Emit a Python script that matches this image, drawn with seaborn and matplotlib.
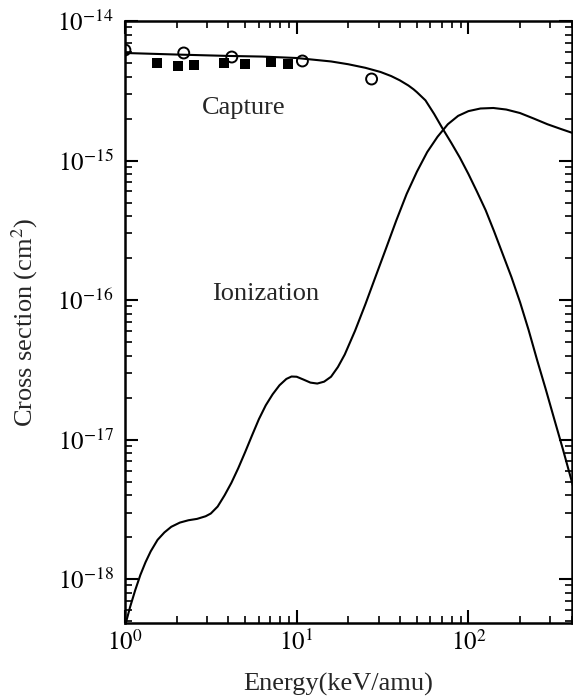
import numpy as np
import pandas as pd
import matplotlib
matplotlib.use("Agg")
import matplotlib.pyplot as plt
import seaborn as sns
from matplotlib.ticker import LogLocator, FixedLocator, FixedFormatter, NullFormatter

# ---------------- data ----------------
capture_energy = [1.0, 2.0, 3.98, 6.31, 10.0, 15.85, 19.95, 25.1, 30.8, 35.5, 39.8, 44.7,
                  47.9, 50.1, 56.2, 63.1, 70.6, 79.4, 89.1, 100, 112, 126, 141, 158,
                  178, 200, 224, 251, 282, 316, 355, 398, 407]
capture_cs = [5.90e-15, 5.75e-15, 5.62e-15, 5.56e-15, 5.43e-15, 5.13e-15, 4.90e-15,
              4.62e-15, 4.31e-15, 4.03e-15, 3.76e-15, 3.45e-15, 3.24e-15, 3.09e-15,
              2.70e-15, 2.16e-15, 1.70e-15, 1.34e-15, 1.05e-15, 8.0e-16, 6.0e-16,
              4.40e-16, 3.11e-16, 2.15e-16, 1.46e-16, 9.6e-17, 6.1e-17, 3.72e-17,
              2.29e-17, 1.40e-17, 8.5e-18, 5.1e-18, 4.6e-18]

ion_energy = [1.0, 1.072, 1.148, 1.230, 1.318, 1.413, 1.549, 1.698, 1.862, 2.089, 2.344,
              2.630, 2.951, 3.162, 3.467, 3.802, 4.169, 4.571, 5.012, 5.495, 6.026, 6.607,
              7.244, 7.943, 8.710, 9.333, 10.0, 10.96, 12.02, 13.18, 14.45, 15.85, 17.38,
              19.05, 21.88, 25.12, 28.84, 33.11, 38.02, 43.65, 50.12, 57.54, 66.07, 75.86,
              87.10, 100, 117.5, 139.6, 166.0, 199.5, 239.9, 288.4, 346.7, 407.4]
ion_cs = [4.57e-19, 6.31e-19, 8.32e-19, 1.07e-18, 1.32e-18, 1.58e-18, 1.91e-18, 2.16e-18,
          2.37e-18, 2.54e-18, 2.64e-18, 2.70e-18, 2.82e-18, 2.95e-18, 3.31e-18, 3.98e-18,
          4.90e-18, 6.24e-18, 8.13e-18, 1.07e-17, 1.40e-17, 1.76e-17, 2.11e-17, 2.45e-17,
          2.72e-17, 2.83e-17, 2.82e-17, 2.69e-17, 2.56e-17, 2.52e-17, 2.60e-17, 2.82e-17,
          3.31e-17, 4.07e-17, 6.03e-17, 9.33e-17, 1.48e-16, 2.34e-16, 3.72e-16, 5.75e-16,
          8.32e-16, 1.15e-15, 1.48e-15, 1.82e-15, 2.09e-15, 2.26e-15, 2.36e-15, 2.38e-15,
          2.32e-15, 2.19e-15, 2.00e-15, 1.82e-15, 1.68e-15, 1.57e-15]

circle_energy = [1.0, 2.2, 4.19, 10.8, 27.3]
circle_cs = [6.2e-15, 5.9e-15, 5.52e-15, 5.17e-15, 3.84e-15]

square_energy = [1.53, 2.04, 2.53, 3.78, 5.0, 7.06, 8.9]
square_cs = [4.98e-15, 4.76e-15, 4.84e-15, 4.98e-15, 4.9e-15, 5.06e-15, 4.92e-15]

x_ticks = [1, 10, 100]
x_tick_labels = ["$10^{0}$", "$10^{1}$", "$10^{2}$"]
y_ticks = [1e-18, 1e-17, 1e-16, 1e-15, 1e-14]
y_tick_labels = ["$10^{-18}$", "$10^{-17}$", "$10^{-16}$", "$10^{-15}$", "$10^{-14}$"]

x_label = "Energy(keV/amu)"
y_label = "Cross section (cm$^2$)"
label_capture = "Capture"
label_ionization = "Ionization"

# ---------------- style ----------------
sns.set_theme(style="ticks")
plt.rcParams['font.family'] = ['Liberation Serif', 'DejaVu Serif']
plt.rcParams['mathtext.fontset'] = 'stix'

fig = plt.figure(figsize=(5.73, 6.98), dpi=100)
ax = fig.add_axes([0.218, 0.1074, 0.780, 0.8625])
ax.set_xscale('log')
ax.set_yscale('log')

cap_df = pd.DataFrame({"E": capture_energy, "sigma": capture_cs})
ion_df = pd.DataFrame({"E": ion_energy, "sigma": ion_cs})
sns.lineplot(data=cap_df, x="E", y="sigma", ax=ax, color="black", lw=1.5,
             sort=False, estimator=None)
sns.lineplot(data=ion_df, x="E", y="sigma", ax=ax, color="black", lw=1.5,
             sort=False, estimator=None)

sns.scatterplot(x=circle_energy, y=circle_cs, ax=ax, marker='o', s=62, linewidth=1.4)
coll = ax.collections[-1]
coll.set_facecolor('none')
coll.set_edgecolor('black')

sns.scatterplot(x=square_energy, y=square_cs, ax=ax, marker='s', s=48, color='black',
                linewidth=0)

ax.set_xlim(1.0, 400)
ax.set_ylim(4.84e-19, 1e-14)

ax.xaxis.set_major_locator(FixedLocator(x_ticks))
ax.xaxis.set_major_formatter(FixedFormatter(x_tick_labels))
ax.yaxis.set_major_locator(FixedLocator(y_ticks))
ax.yaxis.set_major_formatter(FixedFormatter(y_tick_labels))
ax.xaxis.set_minor_locator(LogLocator(base=10, subs=np.arange(2, 10), numticks=20))
ax.yaxis.set_minor_locator(LogLocator(base=10, subs=np.arange(2, 10), numticks=20))
ax.xaxis.set_minor_formatter(NullFormatter())
ax.yaxis.set_minor_formatter(NullFormatter())

ax.tick_params(which='both', direction='in', top=True, right=True, colors='black')
ax.tick_params(which='major', length=9.5, width=1.5, labelsize=18)
ax.tick_params(which='minor', length=5, width=1.2)
ax.tick_params(axis='x', which='major', pad=5)
ax.tick_params(axis='y', which='major', pad=8)
for sp in ax.spines.values():
    sp.set_linewidth(1.8)
    sp.set_color('black')

ax.set_xlabel(x_label, fontsize=19)
ax.set_ylabel(y_label, fontsize=19)
ax.xaxis.set_label_coords(0.477, -0.083)
ax.yaxis.set_label_coords(-0.19, 0.5)

ax.text(4.9, 2.38e-15, label_capture, fontsize=19, ha='center', va='center')
ax.text(6.6, 1.1e-16, label_ionization, fontsize=19, ha='center', va='center')

fig.savefig("out.png", dpi=100)
